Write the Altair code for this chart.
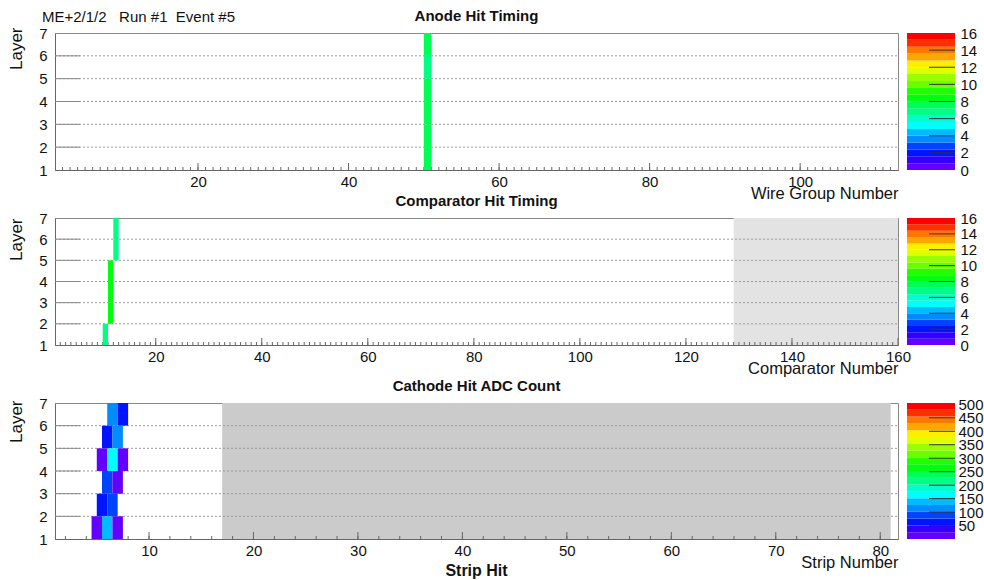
import colorsys
import altair as alt
import pandas as pd

FONT = "Liberation Sans"

# ---------------- data ----------------
run_label = "ME+2/1/2\u00a0\u00a0\u00a0Run #1\u00a0\u00a0Event #5"
layer_ticks = [1, 2, 3, 4, 5, 6, 7]
grid_layers = [2, 3, 4, 5, 6]

# Anode hit timing
anode_title = "Anode Hit Timing"
anode_xtitle = "Wire Group Number"
anode_domain = [1, 113]
anode_labels = [20, 40, 60, 80, 100]
anode_wiregroup = [50, 50, 50, 50, 50, 50]
anode_layer = [1, 2, 3, 4, 5, 6]
anode_time = [7.5, 7.5, 7.5, 7.5, 6.5, 7.5]

# Comparator hit timing
comp_title = "Comparator Hit Timing"
comp_xtitle = "Comparator Number"
comp_domain = [1, 160]
comp_labels = [20, 40, 60, 80, 100, 120, 140, 160]
comp_number = [10, 11, 11, 11, 12, 12]
comp_layer = [1, 2, 3, 4, 5, 6]
comp_time = [7, 8, 8, 8, 7, 7]
comp_masked = [129, 160]

# Cathode hit ADC count
strip_title = "Cathode Hit ADC Count"
strip_xtitle = "Strip Number"
strip_subtitle = "Strip Hit"
strip_domain = [1, 81.7]
strip_labels = [10, 20, 30, 40, 50, 60, 70, 80]
strip_start = [6, 7, 5.5, 6.5, 5, 6, 7, 5.5, 6.5, 5, 6, 4.5, 5.5, 6.5]
strip_layer = [6, 6, 5, 5, 4, 4, 4, 3, 3, 2, 2, 1, 1, 1]
strip_adc = [110, 60, 55, 115, 20, 160, 22, 85, 24, 65, 95, 18, 135, 20]
strip_masked = [17, 81]

# colour scales
time_max = 16
time_labels = [0, 2, 4, 6, 8, 10, 12, 14, 16]
time_inner = [2, 4, 6, 8, 10, 12, 14]
adc_max = 505
adc_labels = [50, 100, 150, 200, 250, 300, 350, 400, 450, 500]
adc_inner = [50, 100, 150, 200, 250, 300, 350, 400, 450]

N_LEVELS = 20
W = 843
CB_W = 48
CB_GAP = 9


def root_palette(n_levels=N_LEVELS, n_colors=50):
    cols = []
    for k in range(n_levels):
        i = int((k + 0.99) * n_colors / n_levels)
        hue = 280.0 - (i + 1) * 280.0 / n_colors
        r, g, b = colorsys.hls_to_rgb(hue / 360.0, 0.5, 1.0)
        cols.append("#%02x%02x%02x" % (round(r * 255), round(g * 255), round(b * 255)))
    return cols


PALETTE = root_palette()


def thresholds(zmax):
    return [zmax * (k + 1) / N_LEVELS for k in range(N_LEVELS - 1)]


def heatmap(xs, ys, vs, x_domain, x_labels, minor, major, x_title, title, zmax,
            height, title_y, masked=None, mask_fill=None, extras=()):
    xsc = alt.Scale(domain=x_domain, nice=False, zero=False)
    ysc = alt.Scale(domain=[1, 7], nice=False, zero=False)
    x_axis = alt.Axis(values=x_labels, ticks=False, grid=False, domainColor="#666",
                      labelFont=FONT, labelFontSize=15, labelColor="#111", labelPadding=4,
                      labelFlush=False, labelOverlap=False,
                      title=x_title, titleFont=FONT, titleFontSize=16.5, titleFontWeight="normal",
                      titleColor="#111", titleAnchor="end", titleAlign="right",
                      titleBaseline="alphabetic", titleX=W, titleY=28)
    y_axis = alt.Axis(values=layer_ticks, ticks=False, grid=False, domainColor="#666",
                      labelFont=FONT, labelFontSize=15, labelColor="#111", labelPadding=8,
                      labelFlush=False, labelOverlap=False,
                      title="Layer", titleFont=FONT, titleFontSize=17, titleFontWeight="normal",
                      titleColor="#111", titleAngle=270, titleAlign="right",
                      titleBaseline="alphabetic", titleX=-34, titleY=title_y)
    X = alt.X("x:Q", scale=xsc, axis=x_axis)
    Y = alt.Y("y:Q", scale=ysc, axis=y_axis)

    parts = []
    if masked is not None:
        mdf = pd.DataFrame({"x": [masked[0]], "x2": [masked[1]]})
        parts.append(alt.Chart(mdf).mark_rect(fill=mask_fill).encode(
            x=X, x2="x2:Q", y=alt.value(0), y2=alt.value(height)))
    gdf = pd.DataFrame({"y": grid_layers})
    parts.append(alt.Chart(gdf).mark_rule(stroke="#9a9a9a", strokeDash=[2, 2], strokeWidth=1).encode(
        y=Y, x=alt.value(0), x2=alt.value(W)))
    parts.append(alt.Chart(gdf).mark_rule(stroke="#888", strokeWidth=1).encode(
        y=Y, x=alt.value(0), x2=alt.value(25)))
    parts.append(alt.Chart(pd.DataFrame({"x": minor})).mark_rule(stroke="#666").encode(
        x=X, y=alt.value(height), y2=alt.value(height - 3)))
    parts.append(alt.Chart(pd.DataFrame({"x": major})).mark_rule(stroke="#666").encode(
        x=X, y=alt.value(height), y2=alt.value(height - 7)))
    cdf = pd.DataFrame({"x": xs, "x2": [v + 1 for v in xs], "y": ys,
                        "y2": [v + 1 for v in ys], "v": vs})
    parts.append(alt.Chart(cdf).mark_rect().encode(
        x=X, x2="x2:Q", y=Y, y2="y2:Q",
        fill=alt.Fill("v:Q", scale=alt.Scale(type="threshold", domain=thresholds(zmax), range=PALETTE),
                      legend=None)))
    parts.extend(extras)
    return alt.layer(*parts).properties(
        width=W, height=height,
        title=alt.TitleParams(title, frame="group", anchor="middle", offset=2, font=FONT,
                              fontSize=15, fontWeight="bold", color="#111"))


def colorbar(zmax, labels, inner, height, pad=5, extras=()):
    ysc = alt.Scale(domain=[0, zmax], nice=False, zero=False)
    axis = alt.Axis(orient="right", values=labels, ticks=False, domain=False, grid=False,
                    labelFont=FONT, labelFontSize=15, labelColor="#111", labelPadding=pad,
                    labelFlush=False, labelOverlap=False, title=None)
    Y = alt.Y("lo:Q", scale=ysc, axis=axis)
    bdf = pd.DataFrame({"lo": [zmax * k / N_LEVELS for k in range(N_LEVELS)],
                        "hi": [zmax * (k + 1) / N_LEVELS for k in range(N_LEVELS)],
                        "c": PALETTE})
    bands = alt.Chart(bdf).mark_rect().encode(
        y=Y, y2="hi:Q", x=alt.value(0), x2=alt.value(CB_W), fill=alt.Fill("c:N", scale=None))
    ticks = alt.Chart(pd.DataFrame({"lo": inner})).mark_rule(stroke="#333").encode(
        y=Y, x=alt.value(22), x2=alt.value(CB_W))
    return alt.layer(bands, ticks, *extras).properties(
        width=CB_W, height=height, view=alt.ViewBackground(stroke="transparent"))


def spacer(h):
    return alt.Chart(pd.DataFrame({"s": [0]})).mark_point(opacity=0).properties(
        width=1, height=h, view=alt.ViewBackground(stroke="transparent"))


H_TOP, H_MID, H_BOT = 137, 127, 136

# run label sits above the top-left of the first panel (placed from the colour-bar view
# so it does not push the panel title upwards)
run_text = alt.Chart(pd.DataFrame({"t": [run_label]})).mark_text(
    align="left", baseline="alphabetic", font=FONT, fontSize=15, color="#111").encode(
    text="t:N", x=alt.value(-13 - W - CB_GAP), y=alt.value(-11))

strip_hit_text = alt.Chart(pd.DataFrame({"t": [strip_subtitle]})).mark_text(
    align="center", baseline="alphabetic", font=FONT, fontSize=16, fontWeight="bold",
    color="#111").encode(text="t:N", x=alt.value(W / 2), y=alt.value(H_BOT + 37))

top = heatmap(anode_wiregroup, anode_layer, anode_time, anode_domain, anode_labels,
              list(range(2, 113)), anode_labels, anode_xtitle, anode_title, time_max,
              H_TOP, -6)
mid = heatmap(comp_number, comp_layer, comp_time, comp_domain, comp_labels,
              list(range(2, 160)), comp_labels, comp_xtitle, comp_title, time_max,
              H_MID, 0, masked=comp_masked, mask_fill="#e3e3e3")
bot = heatmap(strip_start, strip_layer, strip_adc, strip_domain, strip_labels,
              list(range(2, 82, 2)), strip_labels, strip_xtitle, strip_title, adc_max,
              H_BOT, -3, masked=strip_masked, mask_fill="#cbcbcb", extras=[strip_hit_text])

chart = alt.concat(
    top, colorbar(time_max, time_labels, time_inner, H_TOP, extras=[run_text]),
    spacer(48), spacer(48),
    mid, colorbar(time_max, time_labels, time_inner, H_MID),
    spacer(58), spacer(58),
    bot, colorbar(adc_max, adc_labels, adc_inner, H_BOT, pad=3),
    columns=2, spacing=alt.RowColnumber(row=0, column=CB_GAP), align="each", bounds="flush",
).resolve_scale(fill="independent").properties(
    autosize=alt.AutoSizeParams(type="none"),
    padding={"left": 55, "top": 33, "right": 929, "bottom": 547},
    background="white",
).configure_view(stroke="#888", strokeWidth=1)

chart.save("out.html", embed_options={"renderer": "svg", "actions": False})
